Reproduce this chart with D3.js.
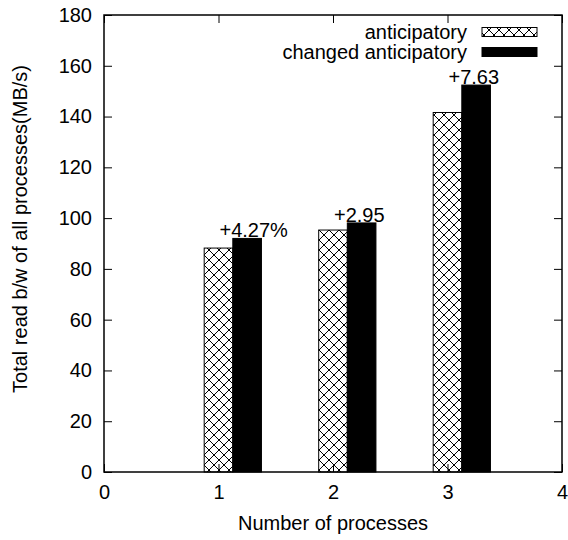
<!DOCTYPE html>
<html>
<head>
<meta charset="utf-8">
<script src="https://cdn.jsdelivr.net/npm/d3@7"></script>
<style>
  body { margin: 0; background: #fff; }
  text { font-family: "Liberation Sans", Arial, sans-serif; }
</style>
</head>
<body>
<div id="wrapper"></div>
<script>
const processes = [1, 2, 3];
const anticipatory = [88.2, 95.3, 141.6];
const changedAnticipatory = [92.0, 98.1, 152.4];
const gainLabels = ["+4.27%", "+2.95", "+7.63"];
const seriesNames = ["anticipatory", "changed anticipatory"];
const xTicks = [0, 1, 2, 3, 4];
const yTicks = [0, 20, 40, 60, 80, 100, 120, 140, 160, 180];

const fontSize = 20;
const dimensions = {
    width: 568,
    height: 540,
    margin: { top: 15, right: 6, bottom: 68, left: 104 }
};
dimensions.boundedWidth = dimensions.width - dimensions.margin.left - dimensions.margin.right;
dimensions.boundedHeight = dimensions.height - dimensions.margin.top - dimensions.margin.bottom;

const svg = d3.select("#wrapper")
    .append("svg")
    .attr("width", dimensions.width)
    .attr("height", dimensions.height);

// crosshatch pattern
const defs = svg.append("defs");
const pat = defs.append("pattern")
    .attr("id", "hatch")
    .attr("patternUnits", "userSpaceOnUse")
    .attr("width", 10)
    .attr("height", 10);
pat.append("rect").attr("width", 10).attr("height", 10).attr("fill", "#fff");
pat.append("path")
    .attr("d", "M0,0 L10,10 M10,0 L0,10 M-1,9 L1,11 M9,-1 L11,1 M-1,1 L1,-1 M9,11 L11,9")
    .attr("stroke", "#000")
    .attr("stroke-width", 1);

const bounds = svg.append("g")
    .attr("transform", `translate(${dimensions.margin.left},${dimensions.margin.top})`);

const xScale = d3.scaleLinear()
    .domain([0, 4])
    .range([0, dimensions.boundedWidth]);

const yScale = d3.scaleLinear()
    .domain([0, 180])
    .range([dimensions.boundedHeight, 0]);

const barW = 0.25;

// bars
bounds.selectAll(".bar-a")
    .data(processes)
    .join("rect")
    .attr("x", (d) => xScale(d - barW / 2))
    .attr("y", (d, i) => yScale(anticipatory[i]))
    .attr("width", xScale(barW) - xScale(0))
    .attr("height", (d, i) => yScale(0) - yScale(anticipatory[i]))
    .attr("fill", "url(#hatch)")
    .attr("stroke", "#000")
    .attr("stroke-width", 1);

bounds.selectAll(".bar-b")
    .data(processes)
    .join("rect")
    .attr("x", (d) => xScale(d + barW / 2))
    .attr("y", (d, i) => yScale(changedAnticipatory[i]))
    .attr("width", xScale(barW) - xScale(0))
    .attr("height", (d, i) => yScale(0) - yScale(changedAnticipatory[i]))
    .attr("fill", "#000")
    .attr("stroke", "#000")
    .attr("stroke-width", 1);

// gain labels
bounds.selectAll(".gain")
    .data(processes)
    .join("text")
    .attr("x", (d) => xScale(d) + 1)
    .attr("y", (d, i) => yScale(changedAnticipatory[i]) - 1)
    .attr("font-size", fontSize)
    .attr("fill", "#000")
    .text((d, i) => gainLabels[i]);

// axes (ticks inward, mirrored)
const tickLen = 8;
const axisStyle = (g) => {
    g.select(".domain").remove();
    g.selectAll("line").attr("stroke", "#000");
    g.selectAll("text").attr("font-size", fontSize).attr("fill", "#000")
        .attr("font-family", "Liberation Sans, Arial, sans-serif");
};

bounds.append("g")
    .attr("transform", `translate(0,${dimensions.boundedHeight})`)
    .call(d3.axisBottom(xScale).tickValues(xTicks).tickFormat(d3.format("d")).tickSizeInner(-tickLen).tickPadding(tickLen + 5))
    .call(axisStyle);

bounds.append("g")
    .call(d3.axisTop(xScale).tickValues(xTicks).tickSizeInner(-tickLen).tickFormat(""))
    .call(axisStyle);

bounds.append("g")
    .call(d3.axisLeft(yScale).tickValues(yTicks).tickSizeInner(-tickLen).tickPadding(tickLen + 4))
    .call(axisStyle);

bounds.append("g")
    .attr("transform", `translate(${dimensions.boundedWidth},0)`)
    .call(d3.axisRight(yScale).tickValues(yTicks).tickSizeInner(-tickLen).tickFormat(""))
    .call(axisStyle);

// frame
bounds.append("rect")
    .attr("width", dimensions.boundedWidth)
    .attr("height", dimensions.boundedHeight)
    .attr("fill", "none")
    .attr("stroke", "#000")
    .attr("stroke-width", 1.5);

// legend
const legend = bounds.append("g");
const legendFills = ["url(#hatch)", "#000"];
seriesNames.forEach((name, i) => {
    const y = 24 + i * 20;
    legend.append("text")
        .attr("x", 363)
        .attr("y", y)
        .attr("text-anchor", "end")
        .attr("font-size", fontSize)
        .text(name);
    legend.append("rect")
        .attr("x", 378)
        .attr("y", y - 11.5)
        .attr("width", 55)
        .attr("height", 9)
        .attr("fill", legendFills[i])
        .attr("stroke", "#000");
});

// axis titles
svg.append("text")
    .attr("x", dimensions.margin.left + dimensions.boundedWidth / 2)
    .attr("y", 530)
    .attr("text-anchor", "middle")
    .attr("font-size", fontSize)
    .text("Number of processes");

svg.append("text")
    .attr("transform", "translate(27,229) rotate(-90)")
    .attr("text-anchor", "middle")
    .attr("font-size", fontSize)
    .text("Total read b/w of all processes(MB/s)");
</script>
</body>
</html>
